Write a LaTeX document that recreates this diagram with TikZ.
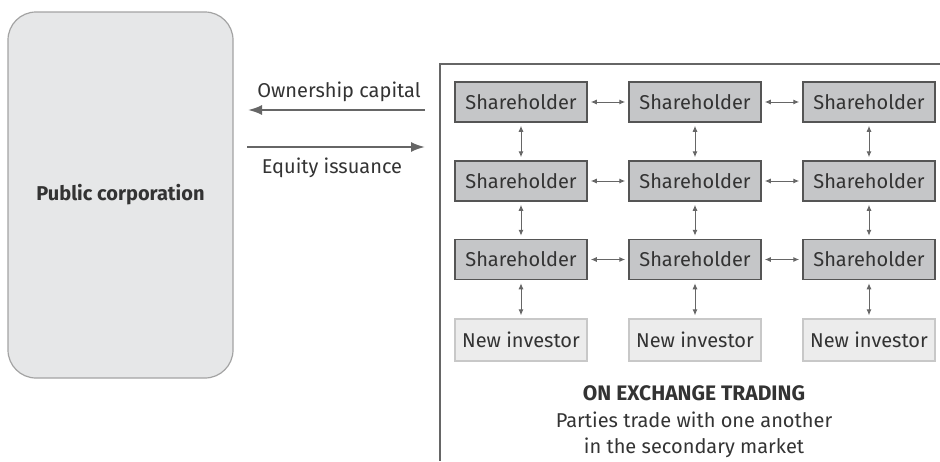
\documentclass[tikz,border=0pt]{standalone}
\usepackage{fontspec}
\setmainfont{Fira Sans}
\usetikzlibrary{arrows.meta}

\definecolor{corpfill}{HTML}{E6E7E8}
\definecolor{corpline}{HTML}{A3A3A3}
\definecolor{holderfill}{HTML}{C5C6C8}
\definecolor{holderline}{HTML}{555555}
\definecolor{newfill}{HTML}{ECECEC}
\definecolor{newline}{HTML}{C8C8C8}
\definecolor{flow}{HTML}{666666}
\definecolor{txt}{HTML}{333333}

\tikzset{
	holder/.style={draw=holderline, fill=holderfill, line width=1.5pt, minimum width=132pt, minimum height=40pt, inner sep=0pt, text=txt, font=\fontsize{20}{24}\selectfont},
	newcomer/.style={draw=newline, fill=newfill, line width=1.2pt, minimum width=132pt, minimum height=42pt, inner sep=0pt, text=txt, font=\fontsize{20}{24}\selectfont},
	trade/.style={{Latex[length=6pt,width=5pt]}-{Latex[length=6pt,width=5pt]}, draw=flow, line width=1pt, shorten <=3pt, shorten >=3pt},
	capital/.style={-{Latex[length=14pt,width=10pt]}, draw=flow, line width=2pt},
	caption/.style={text=txt, font=\fontsize{20}{24}\selectfont, inner sep=0pt, anchor=base}
}

\begin{document}
\begin{tikzpicture}[x=1pt,y=-1pt]
\useasboundingbox (0,0) rectangle (940,461);

\pgfmathsetmacro{\rowA}{102}
\pgfmathsetmacro{\rowB}{181}
\pgfmathsetmacro{\rowC}{259.5}
\pgfmathsetmacro{\rowN}{340}

\node[draw=corpline, fill=corpfill, line width=1.2pt, rounded corners=28pt, minimum width=225pt, minimum height=366pt, text=txt, font=\fontsize{20}{24}\selectfont\bfseries] (corp) at (120.5,195) {Public corporation};

\draw[flow, line width=1.5pt] (940,64) -- (440,64) -- (440,461);
\coordinate (mktA) at (425,110);
\coordinate (corpA) at (248,110);
\coordinate (corpB) at (247,147);
\coordinate (mktB) at (425,147);

\draw[capital] (mktA) -- (corpA);
\draw[capital] (corpB) -- (mktB);
\node[caption] (own) at (339,97) {Ownership capital};
\node[caption] (eq) at (332,173) {Equity issuance};

\foreach \c/\x in {1/521,2/695,3/869} {
	\node[holder] (s1\c) at (\x,\rowA) {Shareholder};
	\node[holder] (s2\c) at (\x,\rowB) {Shareholder};
	\node[holder] (s3\c) at (\x,\rowC) {Shareholder};
	\node[newcomer] (n\c) at (\x,\rowN) {New investor};
	\draw[trade] (s1\c) -- (s2\c);
	\draw[trade] (s2\c) -- (s3\c);
	\draw[trade] (s3\c) -- (n\c);
}
\foreach \r in {1,2,3} {
	\draw[trade] (s\r1) -- (s\r2);
	\draw[trade] (s\r2) -- (s\r3);
}

\node[caption, font=\fontsize{21}{25}\selectfont\bfseries] (head) at (694,400) {ON EXCHANGE TRADING};
\node[caption] (lineA) at (694,427) {Parties trade with one another};
\node[caption] (lineB) at (694,453) {in the secondary market};
\end{tikzpicture}
\end{document}
